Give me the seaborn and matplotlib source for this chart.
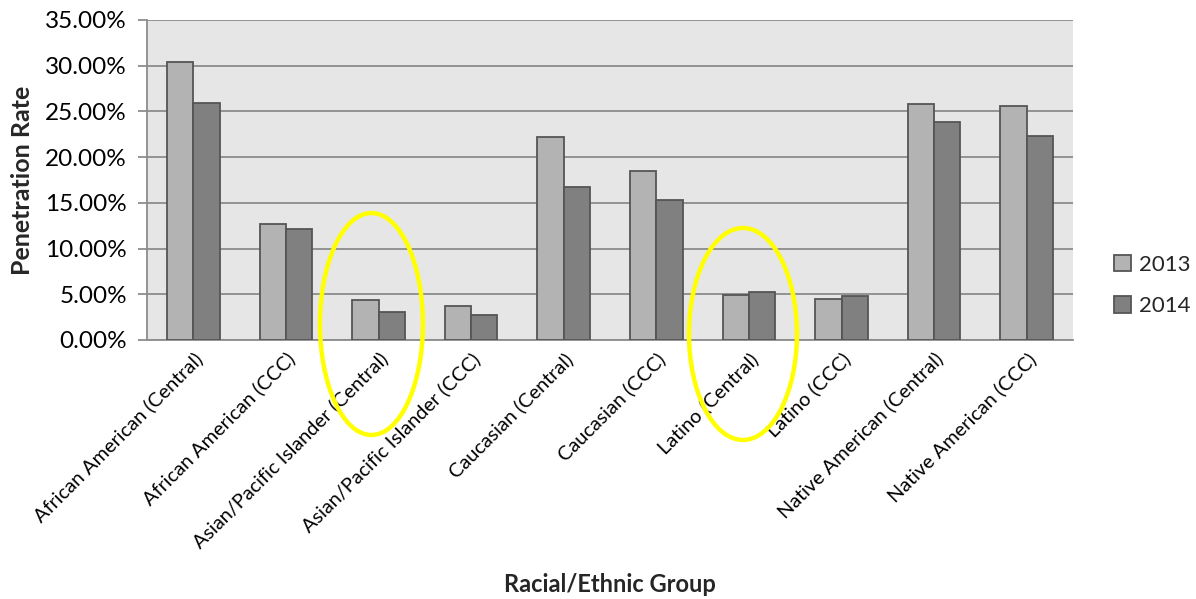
import matplotlib
matplotlib.use("Agg")
import matplotlib.pyplot as plt
from matplotlib.patches import Ellipse
from matplotlib.ticker import FuncFormatter, MultipleLocator
import pandas as pd
import seaborn as sns

# Penetration rates (%) by racial/ethnic group and region
groups = [
    "African American (Central)",
    "African American (CCC)",
    "Asian/Pacific Islander (Central)",
    "Asian/Pacific Islander (CCC)",
    "Caucasian (Central)",
    "Caucasian (CCC)",
    "Latino (Central)",
    "Latino (CCC)",
    "Native American (Central)",
    "Native American (CCC)",
]
rate_2013 = [30.44, 12.72, 4.41, 3.75, 22.17, 18.52, 4.92, 4.52, 25.81, 25.63]
rate_2014 = [25.92, 12.14, 3.03, 2.73, 16.73, 15.31, 5.21, 4.85, 23.84, 22.28]
years = ["2013", "2014"]

df = pd.DataFrame({
    "Group": groups * 2,
    "Year": [years[0]] * len(groups) + [years[1]] * len(groups),
    "Rate": rate_2013 + rate_2014,
})

sns.set_theme(style="white")
plt.rcParams["font.family"] = ["Lato", "DejaVu Sans"]

fig = plt.figure(figsize=(11.96, 5.99), dpi=100)
ax = fig.add_axes([147 / 1196, 1 - 340 / 599, (1073 - 147) / 1196, 320 / 599])
ax.set_facecolor("#E6E6E6")

sns.barplot(
    data=df, x="Group", y="Rate", hue="Year", order=groups, hue_order=years,
    palette={"2013": "#B3B3B3", "2014": "#808080"},
    width=0.57, gap=0, edgecolor="#555555", linewidth=1.3, ax=ax, zorder=3,
)

grid_c = "#8C8C8C"
ax.set_ylim(0, 35)
ax.set_xlim(-0.5, len(groups) - 0.5)
ax.yaxis.set_major_locator(MultipleLocator(5))
ax.yaxis.set_major_formatter(FuncFormatter(lambda v, _: f"{v:.2f}%"))
ax.grid(axis="y", color=grid_c, linewidth=1.3, zorder=1)
ax.set_axisbelow(True)

for side in ["top", "right"]:
    ax.spines[side].set_visible(False)
for side in ["left", "bottom"]:
    ax.spines[side].set_color(grid_c)
    ax.spines[side].set_linewidth(1.3)

ax.tick_params(axis="y", which="major", left=True, length=6.5, width=1.3,
               color=grid_c, labelsize=17.5, labelcolor="black", pad=8)
ax.tick_params(axis="x", bottom=False, labelsize=14.3, labelcolor="black", pad=1)
plt.setp(ax.get_xticklabels(), rotation=45, ha="right", rotation_mode="anchor")

ax.set_ylabel("Penetration Rate", fontsize=18, fontweight="bold", va="center")
ax.set_xlabel("Racial/Ethnic Group", fontsize=17, fontweight="bold", va="center")
ax.xaxis.set_label_coords(0.5, -0.765)
ax.yaxis.set_label_coords(-0.134, 0.5)

# Highlight circles around the groups of interest
for cx, cy, w, h in [(1.924, 1.75, 1.112, 24.28), (5.936, 0.66, 1.166, 23.19)]:
    ax.add_patch(Ellipse((cx, cy), w, h, fill=False, edgecolor="#FFFF00",
                         linewidth=3.2, clip_on=False, zorder=10))

handles, labels = ax.get_legend_handles_labels()
ax.legend(handles, labels, loc="center left", bbox_to_anchor=(1.035, 0.17),
          frameon=False, fontsize=16, handlelength=0.75, handleheight=0.75,
          handletextpad=0.35, labelspacing=0.95, borderaxespad=0)

fig.savefig("out.png", dpi=100)
